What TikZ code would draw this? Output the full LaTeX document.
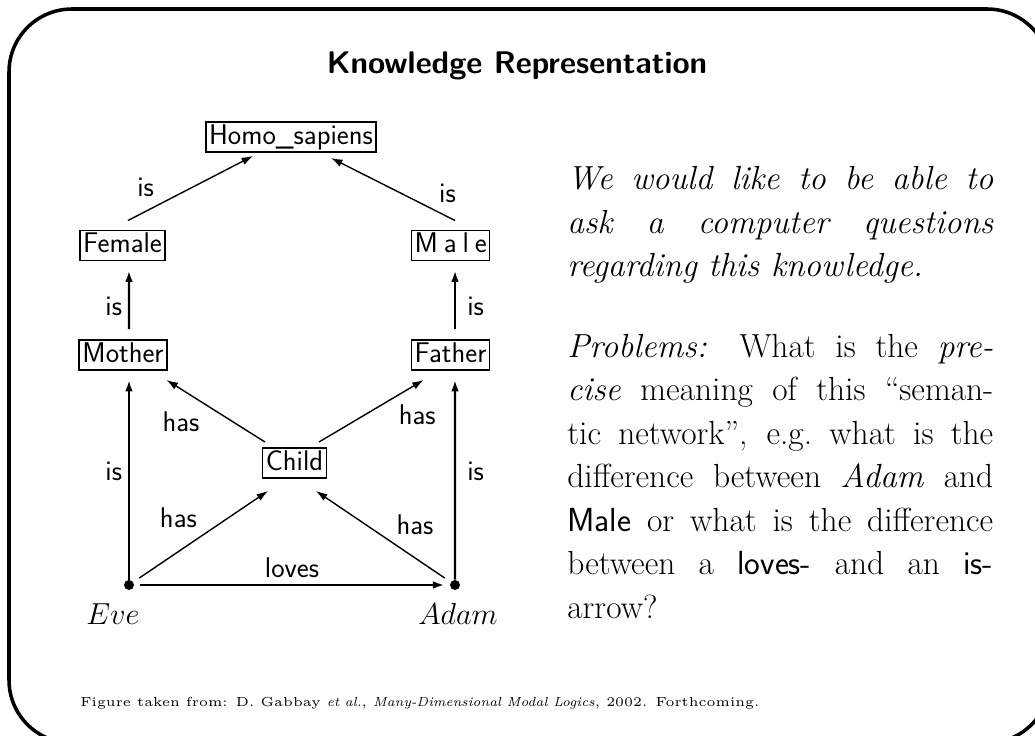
\documentclass[tikz,border=0pt]{standalone}
\usepackage{graphicx}
\usetikzlibrary{arrows.meta}
\newlength{\malewd}

\begin{document}
\begin{tikzpicture}[x=0.02cm,y=-0.02cm,>={Latex[length=6.5pt,width=4.4pt]},auto,
        font=\sffamily\fontsize{16.2}{19}\selectfont,
        concept/.style={draw,line width=0.9pt,inner xsep=1.8pt,inner ysep=1pt,text height=11.8pt,text depth=3.5pt},
        dot/.style={circle,fill,inner sep=0pt,minimum size=0.2cm},
        slant/.style={->,line width=0.8pt},
        upright/.style={->,line width=1.3pt}]
        % slide frame
        \useasboundingbox (0,0) rectangle (1035,736);
        \draw[line width=2pt,rounded corners=1.26cm] (9,9) rectangle (1050,743);
        \node[font=\sffamily\bfseries\fontsize{17.8}{22}\selectfont,anchor=base] (title) at (517,74) {Knowledge Representation};

        % semantic network
        \node[concept] (homo) at (291,137) {Homo\_sapiens};
        \node[concept] (female) at (122.5,245.5) {Female};
        \node[concept] (male) at (450.5,245.5) {\settowidth{\malewd}{Father}\makebox[\malewd][s]{M a l e}};
        \node[concept] (mother) at (123,355) {Mother};
        \node[concept] (father) at (450.5,355) {Father};
        \node[concept] (child) at (294.5,463) {Child};
        \node[dot] (eve) at (129,585) {};
        \node[dot] (adam) at (455,585) {};
        \node[font=\fontsize{18.8}{22}\selectfont,anchor=base] (eve_name) at (113,624) {$Eve$};
        \node[font=\fontsize{18.8}{22}\selectfont,anchor=base] (adam_name) at (458,624) {$Adam$};

        \draw[slant] ([shift={(5.5,-9)}]female.north) -- node[pos=.26] {is} ([shift={(-38,3)}]homo.south);
        \draw[slant] ([shift={(4.5,-9)}]male.north) -- node[pos=.18,swap] {is} ([shift={(40,5)}]homo.south);
        \draw[upright] ([shift={(6,-10)}]mother.north) -- node[pos=.38] {is} ([shift={(6.5,9)}]female.south);
        \draw[upright] ([shift={(4.5,-10)}]father.north) -- node[pos=.38,swap,xshift=3pt] {is} ([shift={(4.5,9)}]male.south);
        \draw[upright] (eve) -- node[pos=.54] {is} ([shift={(6,9)}]mother.south);
        \draw[upright] (adam) -- node[pos=.54,swap,xshift=3pt] {is} ([shift={(4.5,9)}]father.south);
        \draw[slant] ([shift={(-29.5,-5)}]child.north) -- node[pos=.6] {has} ([shift={(-1,9)}]mother.south east);
        \draw[slant] ([shift={(24.5,-5)}]child.north) -- node[pos=.7,swap] {has} ([shift={(13,9)}]father.south west);
        \draw[slant,shorten <=4pt] (eve) -- node[pos=.52] {has} ([shift={(-26.5,12)}]child.south);
        \draw[slant,shorten <=4pt] (adam) -- node[pos=.45,swap] {has} ([shift={(21.5,12)}]child.south);
        \draw[upright,shorten <=3pt,shorten >=3pt] (eve) -- node {loves} (adam);

        % text beside the network
        \node[anchor=north west,inner sep=0pt,text width=8.52cm,align=justify,font=\rmfamily\fontsize{19}{24.8}\selectfont] (notes) at (567,166) {%
            \emph{We would like to be able to\linebreak ask a computer questions\linebreak regarding this knowledge.}\par\vspace{21pt}
            \emph{Problems:} What is the \emph{pre-}\linebreak \emph{cise} meaning of this “seman-\linebreak tic network”, e.g.\ what is the\linebreak difference between \emph{Adam} and\linebreak \textsf{Male} or what is the difference\linebreak between a \textsf{loves-} and an \textsf{is-}\linebreak arrow?};
        \node[anchor=base west,inner sep=0pt,font=\rmfamily] (source) at (80,706) {\scalebox{1.495}{\tiny Figure taken from: D. Gabbay \emph{et al.}, \emph{Many-Dimensional Modal Logics}, 2002. Forthcoming.}};
\end{tikzpicture}
\end{document}
